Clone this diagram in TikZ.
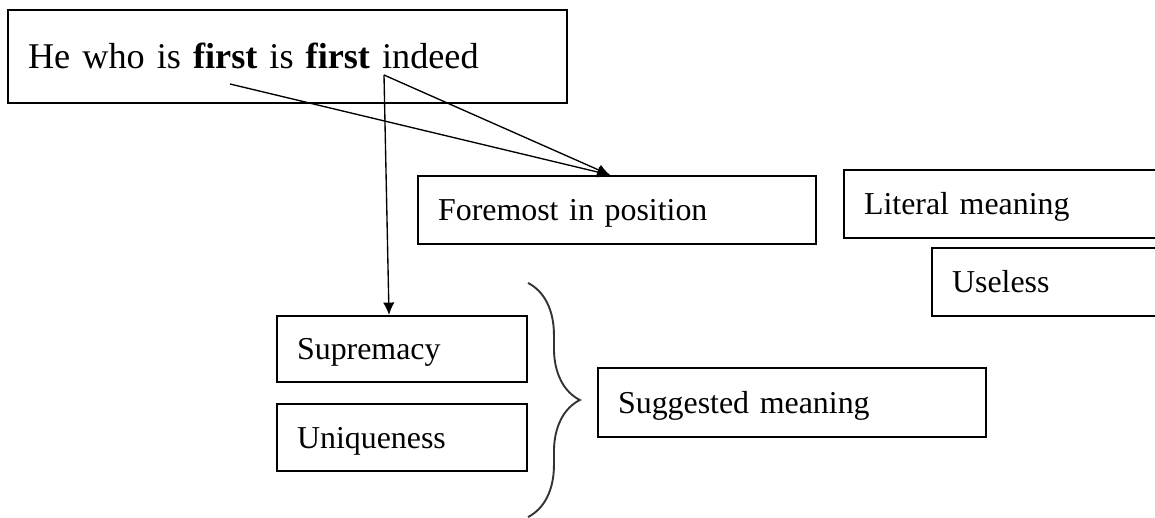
\documentclass[tikz,border=0pt]{standalone}
\usepackage{fontspec}
\setmainfont{Liberation Serif}
\usetikzlibrary{calc,arrows.meta,decorations.pathreplacing}

\begin{document}
\begin{tikzpicture}[x=0.37pt,y=-0.37pt,
  box/.style={draw,line width=0.8pt,anchor=north west,inner xsep=7.4pt,inner ysep=0pt,
    font=\fontsize{11.8}{14}\selectfont,text height=7.8pt,text depth=0pt},
  link/.style={-{Latex[length=4.6pt,width=4.2pt]},line width=0.5pt}]
\useasboundingbox (0,0) rectangle (1155,518);
\clip (0,0) rectangle (1155,518);
\node[box,font=\fontsize{13.4}{16}\selectfont,text height=8.9pt,text width=192pt,minimum height=34.4pt] (quote) at (7,9) {He who is \textbf{first} is \textbf{first} indeed};
\node[box,text width=132.5pt,minimum height=25.2pt] (fore) at (417,175) {Foremost in position};
\node[box,text width=120pt,minimum height=25.2pt] (literal) at (843,169) {Literal meaning};
\node[box,text width=120pt,minimum height=25.2pt] (useless) at (931,247) {Useless};
\node[box,text width=77.7pt,minimum height=24.4pt] (supr) at (276,315) {Supremacy};
\node[box,text width=77.7pt,minimum height=24.8pt] (uniq) at (276,403) {Uniqueness};
\node[box,text width=128.8pt,minimum height=25.5pt] (sugg) at (597,367) {Suggested meaning};
\coordinate (first1) at (230,84);
\coordinate (first2) at (384,75);
\coordinate (btop) at (528,283);
\coordinate (bbot) at (528,517);
\draw[link] (first1) -- ($(fore.north west)+(193,0)$);
\draw[link] (first2) -- ($(fore.north west)+(193,0)$);
\draw[link] (first2) -- ($(supr.north west)+(113,0)$);
\draw[decorate,decoration={brace,amplitude=19.2pt},line width=0.7pt,black!80] (btop) -- (bbot);
\end{tikzpicture}
\end{document}
